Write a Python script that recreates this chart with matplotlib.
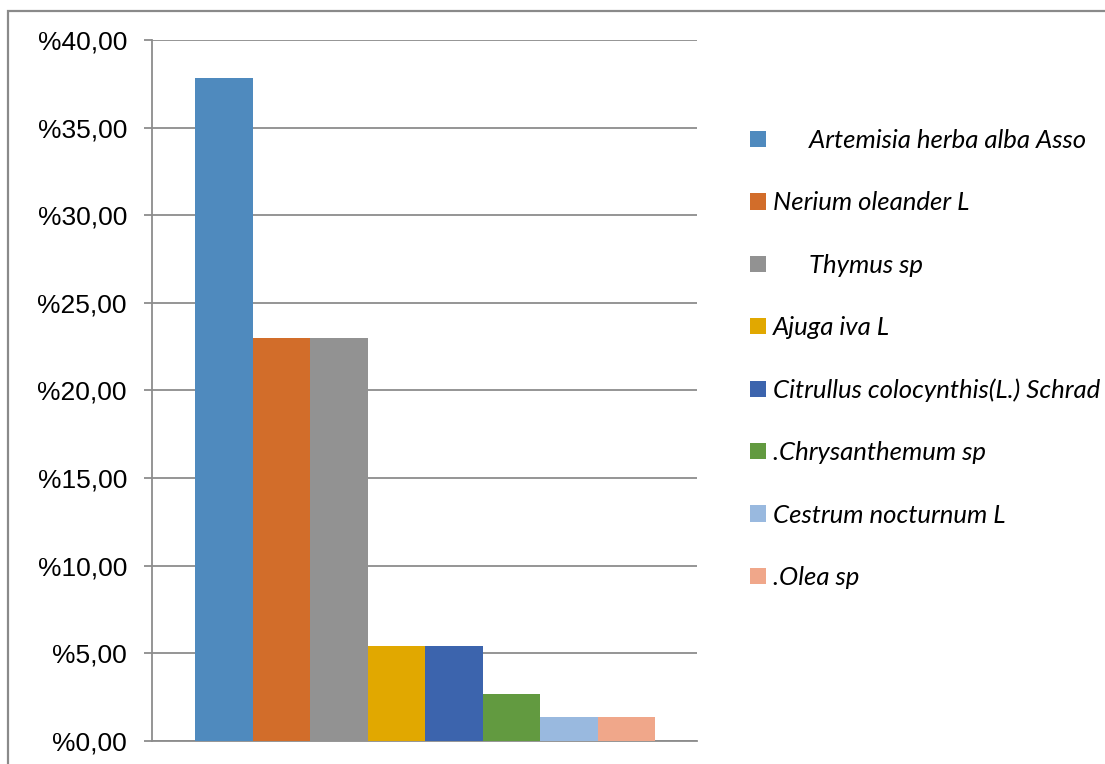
import matplotlib
matplotlib.use("Agg")
import matplotlib.pyplot as plt
from matplotlib.patches import Rectangle

# species shares (percent of citations)
species = ["      Artemisia herba alba Asso", "Nerium oleander L", "      Thymus sp",
           "Ajuga iva L", "Citrullus colocynthis(L.) Schrad", ".Chrysanthemum sp",
           "Cestrum nocturnum L", ".Olea sp"]
shares = [37.84, 22.97, 22.97, 5.41, 5.41, 2.70, 1.35, 1.35]
colors = ["#4f8abe", "#d26d2a", "#929292", "#e1a800", "#3c64ad", "#629a40",
          "#99b9df", "#f0a78a"]
yticks = [0, 5, 10, 15, 20, 25, 30, 35, 40]

W, H = 1105, 764
fig = plt.figure(figsize=(W / 100, H / 100), dpi=100)
ax = fig.add_axes([152 / W, 1 - 741 / H, (697 - 152) / W, (741 - 40) / H])

grid_c = "#8c8c8c"
for i, (lab, v, c) in enumerate(zip(species, shares, colors)):
    ax.bar(i, v, width=1.0, color=c, label=lab, zorder=3)

ax.set_ylim(0, 40)
ax.set_xlim(-1.25, 8.23)
ax.set_yticks(yticks)
ax.set_yticklabels(["%{:.2f}".format(t).replace(".", ",") for t in yticks],
                   fontsize=19, family="Liberation Sans")
ax.set_xticks([])
ax.yaxis.grid(True, color=grid_c, lw=1.3, zorder=0)
for s in ["top", "right"]:
    ax.spines[s].set_visible(False)
for s in ["left", "bottom"]:
    ax.spines[s].set_color(grid_c)
    ax.spines[s].set_linewidth(1.3)
ax.tick_params(axis="y", length=6, width=1.3, color=grid_c, pad=12)

leg = fig.legend(loc="upper left", bbox_to_anchor=(727 / W, 1 - 106 / H),
                 frameon=False, handlelength=0.6, handleheight=0.6,
                 handletextpad=0.3, labelspacing=1.53,
                 prop={"family": "Lato", "style": "italic", "size": 18.5})

# outer chart frame
fig.patches.append(Rectangle((7.5 / W, -0.1), 1.2, 1 - 10.5 / H + 0.1,
                             transform=fig.transFigure, fill=False,
                             edgecolor="#8a8a8a", lw=1.6))

fig.savefig("out.png", dpi=100)
